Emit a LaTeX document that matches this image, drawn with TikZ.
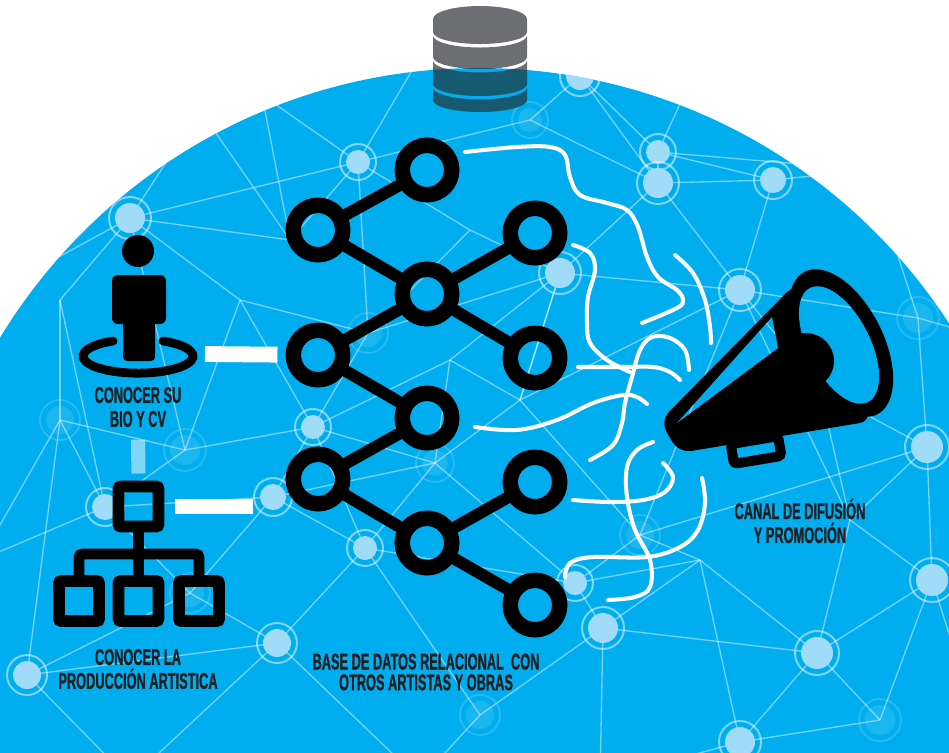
\documentclass[tikz,border=0pt]{standalone}
\usepackage{fontspec}
\newfontfamily\capfont[FakeStretch=0.56,FakeBold=1]{Liberation Sans}
\definecolor{NetBlue}{RGB}{0,174,239}
\definecolor{NetLight}{RGB}{160,220,247}
\definecolor{DbGray}{RGB}{109,110,113}
\definecolor{DbTeal}{RGB}{22,90,114}
\definecolor{InkDark}{RGB}{35,31,32}
\tikzset{
  ring/.style={circle,draw=black,line width=8.8pt,minimum size=0.99cm,inner sep=0pt,outer sep=0pt},
  link/.style={draw=black,line width=6.8pt},
  bar/.style={draw=white,line width=9pt},
  fadebar/.style={draw=white,draw opacity=0.5,line width=8pt},
  mesh/.style={draw=white,draw opacity=0.45,line width=0.75pt},
  hubring/.style={draw=white,draw opacity=0.5,line width=1.1pt},
  wave/.style={draw=white,line width=2.3pt,line cap=round},
  orgbox/.style={rectangle,draw=black,line width=6.8pt,minimum size=0.8cm,inner sep=0pt,outer sep=0pt,rounded corners=1.5pt},
  orgline/.style={draw=black,line width=6.2pt},
  caption/.style={font=\capfont\bfseries\fontsize{13}{13.6}\selectfont,text=InkDark,align=center,inner sep=0pt},
}
% background network (lines + hubs), reused inside the megaphone openings
\newcommand\drawnet{%
  \foreach \u/\v in {hA/e1, hA/e13, hA/e21, hA/e14, hA/fZ, e1/e13, e2/hB, hB/e13, hB/fI, hB/e3,
      hB/fY, hB/e15, fY/hC, hC/hD, hC/hE, fY/hE, hD/hE, hD/hF, hE/hF, hE/hH, hD/e4, hF/e5,
      hF/hG, hE/hG, hH/hG, hH/e15, hH/fI, hH/e16, e15/fI, fI/hJ, fI/e14, e14/hJ, e14/fZ,
      fZ/hJ, fZ/hT, hT/e21, hT/fd, hT/hK, hT/fW, hJ/hK, hJ/fM, hK/fM, hK/hL, hK/fW, fW/hU,
      fW/hV, hV/fd, hV/e9, hV/hU, hU/hL, hU/e9, hU/e10, hL/fM, hL/fc, hL/hN, fM/e17, fM/hN,
      e17/hH, e17/fa, e17/hG, fa/hN, fa/hG, fa/hS, fa/e18, hN/hO, hO/fc, hO/e11, hO/e18,
      hO/hP, e18/hP, e18/hR, hP/hR, hP/hQ, hP/e19, hP/fb, hQ/e19, hQ/hS, hS/e19, hS/e20,
      hS/fX, fX/hG, fX/e6, hG/e20, e20/e19, hR/e11, hR/fb, fc/e10, e16/e17, e16/fM, e16/hJ,
      hQ/e12, hQ/fb, fd/e8, e21/fd, hC/e3, hC/e4, e5/fX, hT/e8, hA/e7, e2/e13, hD/e5,
      hA/hB, hJ/hL, hN/e18, hG/e19, hH/e17, fd/fZ}
    \draw[mesh] (\u) -- (\v);
  \foreach \p/\r in {hA/15, hB/12, hC/14, hD/12, hE/15, hF/13, hG/15, hH/15, hJ/12, hK/13,
      hL/12, hN/12, hO/15, hP/16, hQ/16, hS/16, hT/13, hU/14, hV/14, hR/15}
    {\fill[NetLight] (\p) circle[radius=\r]; \draw[hubring] (\p) circle[radius=\r+6];}
  \foreach \p/\r in {fI/14, fM/13, fW/14, fZ/15, fX/15, fY/12, fa/14, fb/15, fc/14, fd/14}
    {\fill[white,fill opacity=0.1] (\p) circle[radius=\r]; \draw[hubring,draw opacity=0.15] (\p) circle[radius=\r+6];}
}

\begin{document}
\begin{tikzpicture}[x=0.02cm,y=-0.02cm]
\useasboundingbox (0,0) rectangle (949,752);

% network points
\foreach \n/\x/\y in {hA/130/218, hB/358/162, hC/580/76, hD/658/152, hE/658/183, hF/773/180,
    hG/740/290, hH/560/273, hJ/313/427, hK/273/497, hL/365/548, hN/575/583, hO/603/628,
    hP/817/653, hQ/932/580, hS/927/447, hT/105/507, hU/277/643, hV/27/675, hR/740/742,
    fI/368/333, fM/435/463, fW/190/593, fZ/185/450, fX/918/318, fY/530/120, fa/640/535,
    fb/880/720, fc/480/715, fd/60/420,
    e1/200/110, e2/262/95, e3/430/40, e4/700/60, e5/870/170, e6/960/330, e7/-20/300,
    e8/-20/560, e9/130/780, e10/420/780, e11/600/780, e12/970/700, e13/290/240,
    e14/240/300, e15/470/230, e16/450/360, e17/520/400, e18/700/560, e19/850/520,
    e20/820/390, e21/60/300}
  \coordinate (\n) at (\x,\y);

% blue disc with the network
\fill[NetBlue] (479,628) circle[radius=560];
\begin{scope}
  \clip (479,628) circle[radius=560];
  \drawnet
\end{scope}

% database
\foreach \t/\b in {35.5/57, 60.5/84, 87.5/100}
  \fill[DbGray] (433,\t) arc[start angle=180,end angle=0,x radius=47,y radius=12]
    -- (527,\b) arc[start angle=0,end angle=180,x radius=47,y radius=12] -- cycle;
\fill[DbGray] (433,19) arc[start angle=180,end angle=360,x radius=47,y radius=13]
  -- (527,32) arc[start angle=0,end angle=180,x radius=47,y radius=12] -- cycle;
\begin{scope}
  \clip (479,628) circle[radius=560];
  \foreach \t/\b in {35.5/57, 60.5/84, 87.5/100}
    \fill[DbTeal] (433,\t) arc[start angle=180,end angle=0,x radius=47,y radius=12]
      -- (527,\b) arc[start angle=0,end angle=180,x radius=47,y radius=12] -- cycle;
\end{scope}

% wavy signal lines
\draw[wave] plot[smooth,tension=0.6] coordinates {(465,152) (517,147) (550,147) (565,155) (570,177) (580,195) (607,203) (627,210) (638,227) (647,257) (658,277) (677,290) (683,300) (677,308) (642,323)};
\draw[wave] plot[smooth,tension=0.6] coordinates {(573,245) (590,253) (595,270) (588,297) (587,323) (590,343) (607,360) (630,372)};
\draw[wave] plot[smooth,tension=0.6] coordinates {(675,255) (693,273) (705,300) (710,327) (711,343)};
\draw[wave] plot[smooth,tension=0.6] coordinates {(578,367) (623,367) (653,367) (670,372) (680,380)};
\draw[wave] plot[smooth,tension=0.6] coordinates {(590,460) (613,445) (622,423) (625,403) (632,377) (640,350) (652,337) (670,338) (685,350) (689,370)};
\draw[wave] plot[smooth,tension=0.6] coordinates {(475,427) (517,430) (557,420) (593,403) (623,395) (637,397) (647,404)};
\draw[wave] plot[smooth,tension=0.6] coordinates {(653,442) (637,450) (627,467) (627,497) (635,530) (650,560) (650,587) (635,597) (608,600)};
\draw[wave] plot[smooth,tension=0.6] coordinates {(573,500) (610,502) (643,500) (665,492) (673,477) (663,463)};
\draw[wave] plot[smooth,tension=0.6] coordinates {(702,478) (705,503) (698,530) (680,547) (647,557) (593,557) (570,563) (565,577)};

% relational graph
\foreach \n/\x/\y in {n1/427/170, n2/318/230, n3/535/233, n4/427/294, n5/318/355, n6/535/358,
    n7/427/418, n8/318/479, n9/535/482, n10/427/543, n11/535/605}
  \node[ring] (\n) at (\x,\y) {};
\foreach \a/\b in {n1/n2, n2/n4, n4/n3, n4/n5, n4/n6, n5/n7, n7/n8, n8/n10, n10/n9, n10/n11}
  \draw[link] (\a) -- (\b);

% person
\fill (138,251) circle[radius=16];
\fill[rounded corners=3.4pt] (112,275) rectangle (166,324);
\fill[rounded corners=2.3pt] (123,310) rectangle (155,361);
\draw[line width=5pt,line cap=round] (163,341) arc[start angle=-63,end angle=243,x radius=55,y radius=17];

% organisation chart
\node[orgbox] (orgtop) at (138.5,506.5) {};
\node[orgbox] (orgl) at (79,601) {};
\node[orgbox] (orgm) at (138.5,601) {};
\node[orgbox] (orgr) at (199,601) {};
\draw[orgline] (orgtop) -- (orgm);
\draw[orgline,rounded corners=2pt] (orgl.north) -- ++(0,-27) -| (orgr.north);

% captions
\node[caption] (biotext) at (138,407) {CONOCER SU\\BIO Y CV};
\node[caption] (prodtext) at (138,669) {CONOCER LA\\PRODUCCIÓN ARTISTICA};
\node[caption] (basetext) at (426,672) {BASE DE DATOS RELACIONAL\ \ CON\\[-1.8pt]OTROS ARTISTAS Y OBRAS};
\node[caption] (canaltext) at (800,521) {CANAL DE DIFUSIÓN\\Y PROMOCIÓN};

% bars between icons and graph
\coordinate (biobar) at (205,354);
\coordinate (orgbar) at (253,506.5);
\draw[bar,shorten >=9pt] (biobar) -- (n5);
\draw[bar,shorten <=9.6pt] (orgtop) -- (orgbar);
\draw[fadebar,shorten <=7pt,shorten >=7.4pt] (biotext) -- (orgtop);

% megaphone
\draw[line width=5.7pt,rounded corners=2pt,rotate around={9.5:(756,450)}] (732,440) rectangle (780,460);
\fill[rounded corners=7pt] (796,283) -- (660,421) -- (679,453) -- (872,421) -- cycle;
\fill[rotate around={27:(841,343)}] (841,343) ellipse[x radius=42,y radius=80];
\begin{scope}
  \clip[rotate around={27:(839,345)}] (839,345) ellipse[x radius=31,y radius=64];
  \fill[NetBlue] (700,250) rectangle (900,450);
  \drawnet
\end{scope}
\fill (806,361) circle[radius=28];
\begin{scope}
  \clip (677,423) -- (772,317) -- (778,348) -- cycle;
  \fill[NetBlue] (650,300) rectangle (800,450);
  \drawnet
\end{scope}
\end{tikzpicture}
\end{document}
